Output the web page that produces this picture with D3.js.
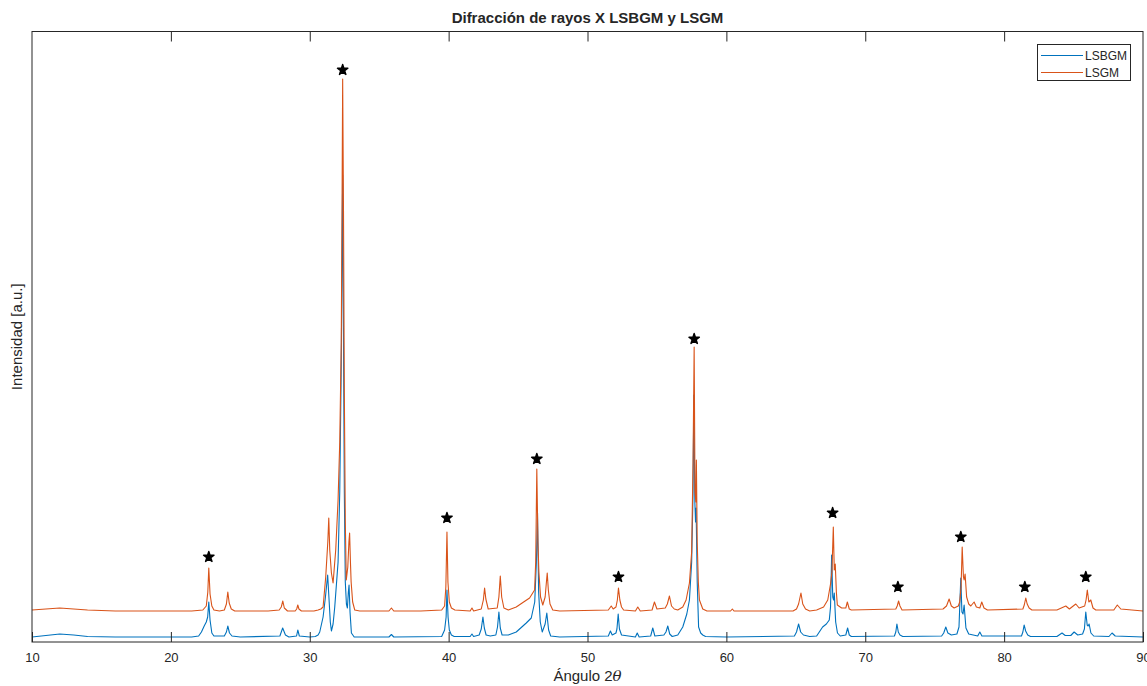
<!DOCTYPE html>
<html>
<head>
<meta charset="utf-8">
<script src="https://cdnjs.cloudflare.com/ajax/libs/d3/7.8.5/d3.min.js"></script>
<style>
  html, body { margin: 0; padding: 0; background: #fff; }
  svg { display: block; }
  text { font-family: "Liberation Sans", Arial, Helvetica, sans-serif; fill: #262626; }
</style>
</head>
<body>
<svg id="chart" width="1147" height="686"></svg>
<script>
// ---- Data (2θ in degrees, intensity in arbitrary units) ----
const xTicks = [10, 20, 30, 40, 50, 60, 70, 80, 90];
const seriesNames = ["LSBGM", "LSGM"];

const lsbgm = [[10,5],[11,6.5],[12,8],[13,7],[14,5.5],[16,5],[18,5],[20,5],[21.5,5],[22.0,6],[22.2,10],[22.4,16],[22.55,20],[22.65,25],[22.73,40],[22.82,22],[22.95,9],[23.1,6],[23.85,6],[24.0,10],[24.1,16],[24.22,9],[24.4,6],[25,5],[27.85,6],[28.05,14],[28.25,7],[28.5,5],[29.05,6],[29.14,12],[29.25,6],[30.0,5],[30.4,5.5],[30.6,7],[30.72,10],[30.96,25],[31.13,45],[31.29,67],[31.4,40],[31.48,20],[31.56,11],[31.68,18],[31.8,35],[32.04,80],[32.16,150],[32.27,280],[32.37,467],[32.43,300],[32.49,150],[32.56,60],[32.64,38],[32.71,34],[32.78,50],[32.83,57],[32.9,30],[33.0,9],[33.2,5],[35.7,5],[35.88,7.5],[36.05,5],[39.5,5.5],[39.71,12],[39.82,25],[39.88,52],[39.96,25],[40.05,12],[40.2,7],[40.4,5.5],[41.55,5.5],[41.68,8],[41.8,5.5],[42.2,7],[42.35,13],[42.47,25],[42.57,14],[42.7,7],[43.0,6],[43.4,7],[43.52,15],[43.62,30],[43.72,14],[43.85,7],[44.3,7],[44.87,10],[45.59,19],[45.95,24],[46.2,40],[46.32,80],[46.4,129],[46.48,50],[46.6,20],[46.74,10],[46.95,18],[47.07,29],[47.2,12],[47.35,6],[48,5],[51.5,6],[51.65,11],[51.78,7],[52.05,9],[52.12,13],[52.21,28],[52.3,13],[52.45,7],[53.45,5],[53.58,9],[53.72,5],[54.55,6],[54.7,14],[54.85,6],[55.5,7],[55.65,10],[55.78,16],[55.92,8],[56.1,5.5],[56.5,7],[56.86,15],[57.15,28],[57.34,42],[57.5,80],[57.6,150],[57.66,247],[57.73,140],[57.78,120],[57.82,134],[57.9,60],[58.0,15],[58.15,9],[58.3,7],[58.5,5.5],[60,5],[64.9,6],[65.05,10],[65.2,18],[65.35,10],[65.55,7],[66,5.5],[66.5,6],[66.93,15],[67.2,18],[67.41,22],[67.5,35],[67.58,87],[67.66,45],[67.72,42],[67.77,49],[67.87,20],[68.0,9],[68.2,6],[68.6,7],[68.73,14],[68.85,7],[69.0,5.5],[72.1,6],[72.2,10],[72.28,18],[72.38,10],[72.5,7],[72.7,5.5],[75.5,6],[75.65,9],[75.8,15],[75.95,9],[76.2,7],[76.6,8],[76.75,15],[76.88,64],[76.96,30],[77.04,28],[77.12,37],[77.25,14],[77.45,8],[78.1,6],[78.25,10],[78.4,6],[81.25,6],[81.35,10],[81.44,17],[81.55,11],[81.7,7],[81.9,5.5],[83.8,5.5],[84.17,9],[84.4,6.5],[84.8,6.5],[85.04,10],[85.3,7],[85.65,8],[85.78,13],[85.88,30],[85.98,17],[86.05,16],[86.12,18],[86.25,9],[86.45,6],[87.55,5.5],[87.77,9],[88.0,6],[90,5]];

const lsgm = [[10,32],[11,33],[12,34],[13,33],[14,32],[16,31],[18,31],[20,31],[21.5,31],[22.3,32],[22.55,36],[22.66,50],[22.73,74],[22.82,48],[22.95,36],[23.1,32],[23.5,31],[23.85,32],[24.0,38],[24.1,50],[24.2,39],[24.35,33],[24.6,31],[27,31],[27.8,32],[27.95,35],[28.06,41],[28.17,34],[28.4,31],[28.95,31],[29.06,33],[29.14,37],[29.22,33],[29.4,31],[30.3,31],[30.6,32],[30.8,33],[30.96,35],[31.15,65],[31.3,100],[31.37,124],[31.44,92],[31.56,69],[31.68,59],[31.87,92],[32.04,142],[32.16,200],[32.27,300],[32.33,450],[32.37,563],[32.43,430],[32.49,250],[32.56,120],[32.63,62],[32.74,75],[32.82,100],[32.87,109],[32.93,80],[32.98,60],[33.09,40],[33.24,32],[33.6,31],[35.7,31],[35.88,34],[36.05,31],[38,31],[39.5,32],[39.71,36],[39.8,55],[39.88,110],[39.95,60],[40.05,40],[40.2,34],[40.45,32],[41.55,31],[41.68,34],[41.8,31],[42.35,33],[42.5,42],[42.59,54],[42.68,43],[42.85,33],[43.5,34],[43.62,45],[43.72,66],[43.82,45],[43.98,34],[44.3,32],[44.87,35],[45.4,40],[45.83,44],[46.19,52],[46.27,80],[46.35,173],[46.43,100],[46.5,70],[46.62,45],[46.78,37],[46.95,45],[47.03,58],[47.1,69],[47.18,52],[47.3,38],[47.5,32],[48,31],[51.5,32],[51.71,36],[51.85,33],[52.05,35],[52.15,42],[52.23,54],[52.33,42],[52.45,35],[52.6,32],[53.45,31],[53.62,35],[53.8,31],[54.65,32],[54.82,40],[55.0,33],[55.6,34],[55.75,38],[55.9,46],[56.05,36],[56.25,33],[56.5,32],[56.86,35],[57.1,42],[57.34,59],[57.5,90],[57.6,180],[57.68,295],[57.74,150],[57.8,140],[57.84,182],[57.9,100],[57.98,60],[58.06,42],[58.3,33],[58.6,31],[60.3,31],[60.43,33],[60.55,31],[64.8,31],[65.05,33],[65.2,38],[65.37,49],[65.5,38],[65.7,33],[66,31],[66.5,32],[67,35],[67.3,42],[67.5,58],[67.6,70],[67.7,115],[67.77,72],[67.84,78],[67.92,50],[67.99,37],[68.3,34],[68.6,34],[68.71,40],[68.85,33],[69.0,32],[72.2,33],[72.3,36],[72.4,41],[72.5,36],[72.65,32],[75.6,33],[75.85,36],[76.04,43],[76.2,36],[76.4,34],[76.7,36],[76.8,40],[76.9,55],[76.98,95],[77.07,65],[77.12,62],[77.19,68],[77.3,45],[77.45,38],[77.6,36],[77.84,40],[78.0,35],[78.25,34],[78.39,40],[78.55,34],[78.8,32],[81.35,33],[81.45,37],[81.56,44],[81.66,38],[81.8,34],[82,32],[83.8,32],[84.44,36],[84.7,33],[85.16,38],[85.4,34],[85.8,36],[85.9,42],[85.99,52],[86.1,40],[86.24,42],[86.4,34],[86.6,32],[87.9,32],[88.15,37],[88.4,33],[90,31]];

// Perovskite reflections marked with stars (2θ, intensity)
const starMarks = [[22.73,85],[32.37,572],[39.88,124],[46.35,183],[52.23,65],[57.68,303],[67.65,129],[72.35,55],[76.88,105],[81.49,55],[85.88,65]];

// ---- Layout ----
const svg = d3.select("#chart");
const m = { left: 32, right: 1143, top: 31.5, bottom: 642 };
const colors = ["#0072BD", "#D95319"];
const axisColor = "#262626";

const x = d3.scaleLinear().domain([10, 90]).range([m.left, m.right]);
const y = d3.scaleLinear().domain([0, 610.5]).range([m.bottom, m.top]);

svg.append("defs").append("clipPath").attr("id", "clip")
  .append("rect").attr("x", m.left).attr("y", m.top)
  .attr("width", m.right - m.left).attr("height", m.bottom - m.top);

const line = d3.line().x(d => x(d[0])).y(d => y(d[1]));

const plot = svg.append("g").attr("clip-path", "url(#clip)");
[lsbgm, lsgm].forEach((s, i) => {
  plot.append("path").datum(s)
    .attr("d", line)
    .attr("fill", "none")
    .attr("stroke", colors[i])
    .attr("stroke-width", 1.1)
    .attr("stroke-linejoin", "round");
});

// stars (filled pentagrams)
const star = d3.symbol().type(d3.symbolStar).size(34);
plot.selectAll(".star").data(starMarks).join("path")
  .attr("class", "star")
  .attr("d", star)
  .attr("transform", d => `translate(${x(d[0])},${y(d[1])})`)
  .attr("fill", "#000").attr("stroke", "#000").attr("stroke-width", 1.4)
  .attr("stroke-linejoin", "round");

// axes (ticks inward, mirrored on top)
const tickLen = 10;
const bottomAxis = d3.axisBottom(x).tickValues(xTicks).tickSize(-tickLen).tickPadding(tickLen + 1).tickFormat(d3.format("d"));
const gB = svg.append("g").attr("transform", `translate(0,${m.bottom})`).call(bottomAxis);
gB.select(".domain").remove();
gB.selectAll("line").attr("stroke", axisColor).attr("stroke-width", 1);
gB.selectAll("text").attr("font-size", 13).attr("fill", axisColor)
  .attr("font-family", '"Liberation Sans", Arial, Helvetica, sans-serif');

const topAxis = d3.axisTop(x).tickValues(xTicks.slice(1, -1)).tickSize(-tickLen).tickFormat("");
const gT = svg.append("g").attr("transform", `translate(0,${m.top})`).call(topAxis);
gT.select(".domain").remove();
gT.selectAll("line").attr("stroke", axisColor).attr("stroke-width", 1);

svg.append("rect").attr("x", m.left).attr("y", m.top)
  .attr("width", m.right - m.left).attr("height", m.bottom - m.top)
  .attr("fill", "none").attr("stroke", axisColor).attr("stroke-width", 1);

// title & labels
svg.append("text").attr("x", (m.left + m.right) / 2).attr("y", 23)
  .attr("text-anchor", "middle").attr("font-size", 15).attr("font-weight", "bold")
  .attr("fill", "#000")
  .text("Difracción de rayos X LSBGM y LSGM");

const xl = svg.append("text").attr("x", (m.left + m.right) / 2).attr("y", 681)
  .attr("text-anchor", "middle").attr("font-size", 15);
xl.append("tspan").text("Ángulo 2");
xl.append("tspan").attr("font-style", "italic").attr("font-family", '"DejaVu Serif", "Liberation Serif", serif').text("θ");

svg.append("text")
  .attr("transform", `translate(22,${(m.top + m.bottom) / 2}) rotate(-90)`)
  .attr("text-anchor", "middle").attr("font-size", 15)
  .text("Intensidad [a.u.]");

// legend
const lg = svg.append("g");
lg.append("rect").attr("x", 1037.5).attr("y", 44.5).attr("width", 93).attr("height", 36)
  .attr("fill", "#fff").attr("stroke", axisColor).attr("stroke-width", 1);
seriesNames.forEach((n, i) => {
  const yy = 55.5 + i * 17;
  lg.append("line").attr("x1", 1041).attr("x2", 1083).attr("y1", yy).attr("y2", yy)
    .attr("stroke", colors[i]).attr("stroke-width", 1);
  lg.append("text").attr("x", 1085).attr("y", yy + 4.3).attr("font-size", 12)
    .attr("fill", "#000").text(n);
});
</script>
</body>
</html>
